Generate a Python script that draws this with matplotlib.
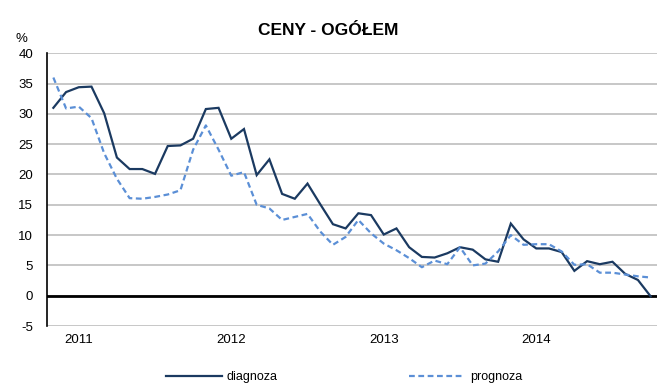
import matplotlib.pyplot as plt
import numpy as np

# monthly series, Nov 2010 - Oct 2014
diagnoza = [31.0, 33.6, 34.4, 34.5, 30.1, 22.8, 20.9, 20.9, 20.1, 24.7,
            24.8, 25.9, 30.8, 31.0, 25.9, 27.5, 19.9, 22.5, 16.8, 16.0,
            18.5, 15.1, 11.8, 11.1, 13.6, 13.3, 10.1, 11.1, 8.0, 6.4,
            6.3, 7.0, 8.0, 7.6, 6.0, 5.6, 11.9, 9.3, 7.8, 7.8,
            7.2, 4.1, 5.7, 5.2, 5.6, 3.6, 2.6, -0.1]
prognoza = [36.0, 30.9, 31.2, 29.3, 23.5, 19.3, 16.1, 16.0, 16.3, 16.7,
            17.4, 24.1, 28.1, 24.1, 19.8, 20.4, 15.0, 14.4, 12.5, 13.0,
            13.5, 10.6, 8.4, 9.7, 12.5, 10.3, 8.6, 7.5, 6.2, 4.7,
            5.8, 5.2, 8.0, 5.0, 5.3, 7.3, 10.0, 8.4, 8.5, 8.5,
            7.3, 5.1, 5.2, 3.8, 3.8, 3.5, 3.2, 3.0]
year_labels = ["2011", "2012", "2013", "2014"]
year_pos = [2, 14, 26, 38]
y_ticks = list(range(-5, 41, 5))

plt.rcParams['font.family'] = ['Liberation Sans', 'DejaVu Sans']

fig = plt.figure(figsize=(6.63, 3.85), dpi=100)
ax = fig.add_axes([0.0709, 0.1532, 0.920, 0.7084])

x = np.arange(len(diagnoza))
ax.plot(x, diagnoza, color="#1b3a61", lw=1.6, label="diagnoza",
        solid_joinstyle="miter")
ax.plot(x, prognoza, color="#5b8fd6", lw=1.6, ls=(0, (2.6, 1.6)),
        label="prognoza")

ax.set_xlim(-0.5, len(diagnoza) - 0.5)
ax.set_ylim(-5, 40)
ax.set_yticks(y_ticks)
ax.set_yticklabels([str(v) for v in y_ticks], fontsize=9.5)
ax.set_xticks(year_pos)
ax.set_xticklabels(year_labels, fontsize=9.5)
ax.tick_params(axis="both", length=0)
ax.tick_params(axis="y", pad=10)
ax.tick_params(axis="x", pad=6)

ax.grid(axis="y", color="#c3c3c3", lw=1.3)
ax.set_axisbelow(True)
for side in ["top", "right", "bottom"]:
    ax.spines[side].set_visible(False)
ax.spines["left"].set_color("black")
ax.spines["left"].set_linewidth(1.2)
ax.axhline(0, color="black", lw=2.0, zorder=1.5)

fig.text(0.495, 0.92, "CENY - OGÓŁEM", ha="center", va="center",
         fontsize=12.5, fontweight="bold")
fig.text(0.033, 0.9, "%", ha="center", va="center", fontsize=9.5)

fig.legend(loc="center", bbox_to_anchor=(0.519, 0.02), ncol=2,
           frameon=False, fontsize=9, handlelength=4.5, columnspacing=10.5,
           handletextpad=0.4)

fig.savefig("out.png", dpi=100)
